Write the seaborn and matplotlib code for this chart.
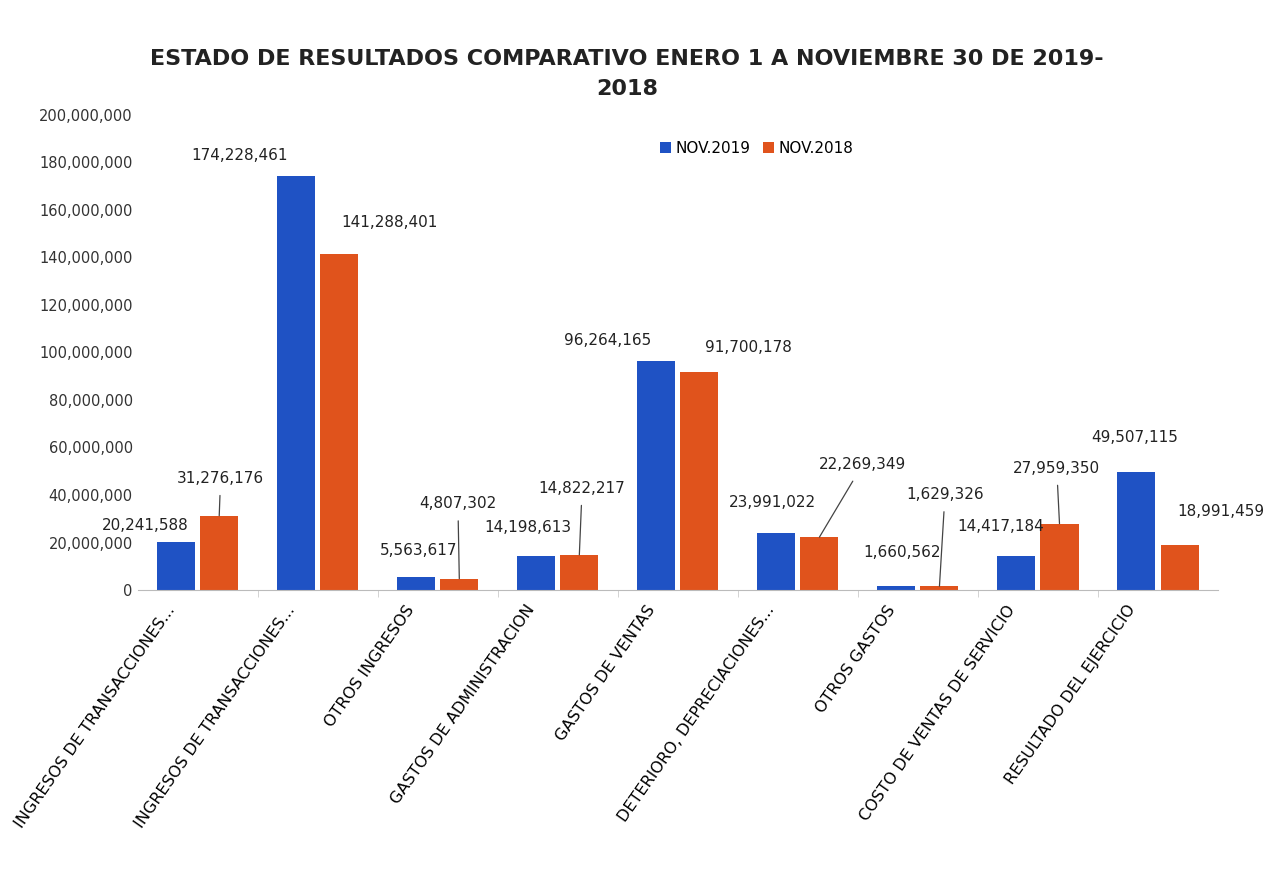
import pandas as pd
import matplotlib.pyplot as plt
import matplotlib.ticker as mticker
import matplotlib.transforms as mtrans
import seaborn as sns

# Data
categories = [
    "INGRESOS DE TRANSACCIONES...",
    "INGRESOS DE TRANSACCIONES...",
    "OTROS INGRESOS",
    "GASTOS DE ADMINISTRACION",
    "GASTOS DE VENTAS",
    "DETERIORO, DEPRECIACIONES...",
    "OTROS GASTOS",
    "COSTO DE VENTAS DE SERVICIO",
    "RESULTADO DEL EJERCICIO",
]
nov_2019 = [20241588, 174228461, 5563617, 14198613, 96264165, 23991022, 1660562, 14417184, 49507115]
nov_2018 = [31276176, 141288401, 4807302, 14822217, 91700178, 22269349, 1629326, 27959350, 18991459]
series = ["NOV.2019", "NOV.2018"]

# unique keys so the two identical truncated labels stay separate bars
keys = [f"c{i}" for i in range(len(categories))]
df = pd.DataFrame({
    "key": keys * 2,
    "serie": [series[0]] * len(keys) + [series[1]] * len(keys),
    "valor": nov_2019 + nov_2018,
})

# label offsets in points (dx, dy) from bar top to label centre, leader line or not
offs_2019 = [(-22, 12), (-41, 15), (2, 19), (-6, 21), (-35, 15), (-3, 22), (4, 24), (-11, 21), (-1, 25)]
offs_2018 = [(1, 27), (36, 23), (-1, 54), (2, 48), (35, 18), (31, 52), (4, 66), (-2, 40), (30, 24)]
lead_2018 = [True, False, True, True, False, True, True, True, False]

plt.rcParams["font.family"] = ["DejaVu Sans"]
fig = plt.figure(figsize=(12.74, 8.9), dpi=100)
ax = fig.add_axes([0.108, 0.337, 0.848, 0.534])

sns.barplot(data=df, x="key", y="valor", hue="serie", palette=["#1F52C4", "#E0531C"],
            width=0.72, gap=0.12, ax=ax, saturation=1, legend=True)

ax.set_ylim(0, 200000000)
ax.set_xlim(-0.5, len(categories) - 0.5)
ax.yaxis.set_major_locator(mticker.MultipleLocator(20000000))
ax.yaxis.set_major_formatter(mticker.FuncFormatter(lambda v, p: f"{int(v):,}"))
ax.set_xticks(range(len(categories)))
ax.set_xticks([i + 0.5 for i in range(len(categories) - 1)], minor=True)
ax.tick_params(axis="y", length=0, labelsize=10.5, colors="#333333")
ax.tick_params(axis="x", which="major", length=0, pad=12)
ax.tick_params(axis="x", which="minor", length=5, color="#cccccc")
ax.set_xticklabels(categories, rotation=55, ha="right", va="center", rotation_mode="anchor", fontsize=11.5)
# nudge category labels left, as in the original
shift = mtrans.ScaledTranslation(-0.26, 0, fig.dpi_scale_trans)
for lab in ax.get_xticklabels():
    lab.set_transform(lab.get_transform() + shift)
ax.set_xlabel("")
ax.set_ylabel("")
for s in ["top", "right", "left"]:
    ax.spines[s].set_visible(False)
ax.spines["bottom"].set_color("#bbbbbb")

# value labels
for bar, v, (dx, dy) in zip(ax.containers[0], nov_2019, offs_2019):
    x = bar.get_x() + bar.get_width() / 2
    ax.annotate(f"{v:,}", (x, bar.get_height()), xytext=(dx, dy), textcoords="offset points",
                ha="center", va="center", fontsize=11, color="#222222")
for bar, v, (dx, dy), lead in zip(ax.containers[1], nov_2018, offs_2018, lead_2018):
    x = bar.get_x() + bar.get_width() / 2
    ap = dict(arrowstyle="-", color="#444444", lw=0.9, shrinkA=5, shrinkB=0) if lead else None
    ax.annotate(f"{v:,}", (x, bar.get_height()), xytext=(dx, dy), textcoords="offset points",
                ha="center", va="center", fontsize=11, color="#222222", arrowprops=ap)

ax.legend(loc="center", bbox_to_anchor=(0.573, 0.93), ncol=2, frameon=False,
          fontsize=11, handlelength=0.7, handleheight=0.7, columnspacing=0.8, handletextpad=0.3)

fig.suptitle("ESTADO DE RESULTADOS COMPARATIVO ENERO 1 A NOVIEMBRE 30 DE 2019-\n2018",
             x=0.492, y=0.945, fontsize=16, fontweight="bold", color="#222222", linespacing=1.6)

fig.savefig("out.png", dpi=100, facecolor="white")
